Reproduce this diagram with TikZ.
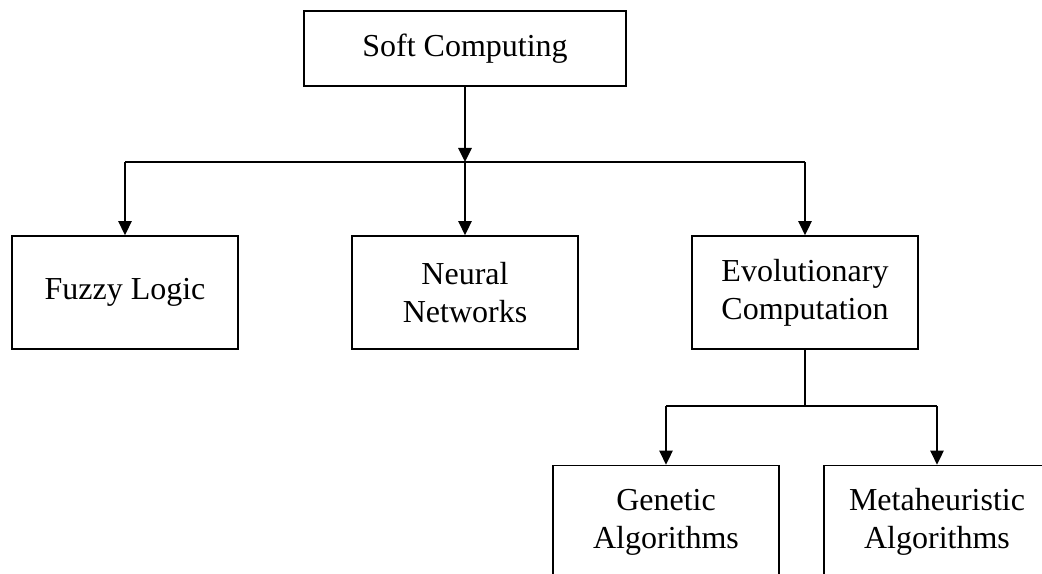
\documentclass[tikz,border=0pt]{standalone}
\usepackage{fontspec}
\setmainfont{Liberation Serif}
\usetikzlibrary{arrows.meta}
\begin{document}
\begin{tikzpicture}[x=0.75pt,y=-0.75pt,
  box/.style={draw,line width=1.3pt,align=center,inner sep=0pt,
    font=\fontsize{24}{28.5}\selectfont},
  conn/.style={line width=1.3pt},
  arr/.style={conn,-{Triangle[width=10pt,length=10.5pt]}}]
\useasboundingbox (0,0) rectangle (1042,574);
\clip (0,0) rectangle (1042,574);
\node[box,minimum width=241.5pt,minimum height=56.25pt] (sc) at (465,48.5) {Soft Computing};
\node[box,minimum width=169.5pt,minimum height=84.75pt] (fl) at (125,292.5) {Fuzzy Logic};
\node[box,minimum width=169.5pt,minimum height=84.75pt] (nn) at (465,292.5) {Neural\\Networks};
\node[box,minimum width=169.5pt,minimum height=84.75pt] (ec) at (805,292.5) {Evolutionary\\Computation};
\node[box,minimum width=169.5pt,minimum height=84.75pt] (ga) at (666,522) {Genetic\\Algorithms};
\node[box,minimum width=169.5pt,minimum height=84.75pt] (ma) at (937,522) {Metaheuristic\\Algorithms};
\coordinate (j1) at (465,162);
\coordinate (j2) at (805,406);
\draw[arr] (sc.south) -- (j1);
\draw[conn] (j1 -| fl.north) -- (j1 -| ec.north);
\draw[arr] (j1 -| fl.north) -- (fl.north);
\draw[arr] (j1) -- (nn.north);
\draw[arr] (j1 -| ec.north) -- (ec.north);
\draw[conn] (ec.south) -- (j2);
\draw[conn] (j2 -| ga.north) -- (j2 -| ma.north);
\draw[arr] (j2 -| ga.north) -- (ga.north);
\draw[arr] (j2 -| ma.north) -- (ma.north);
\end{tikzpicture}
\end{document}
